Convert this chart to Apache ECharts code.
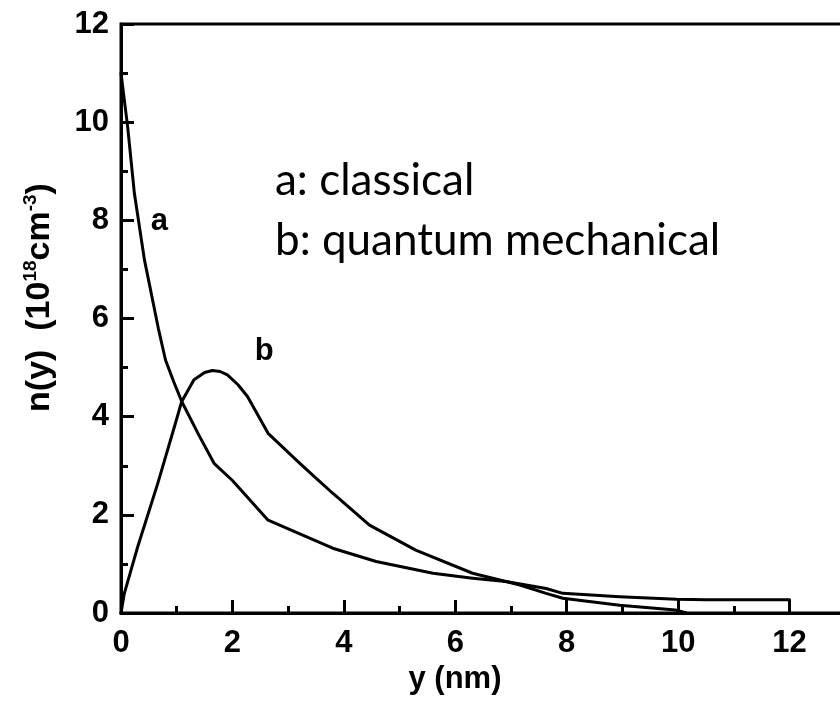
<!DOCTYPE html>
<html>
<head>
<meta charset="utf-8">
<script src="https://cdn.jsdelivr.net/npm/echarts@6/dist/echarts.min.js"></script>
<style>
  html, body { margin: 0; padding: 0; background: #fff; }
  #chart { width: 840px; height: 709px; }
</style>
</head>
<body>
<div id="chart"></div>
<script>
// Carrier density profiles n(y) versus depth y
const classicalY = [0, 0.12, 0.24, 0.42, 0.67, 0.8, 0.95, 1.09, 1.4, 1.67, 2.0, 2.64, 3.21, 3.8, 4.58, 5.6, 6.31, 6.91, 7.63, 7.93, 8.95, 9.97, 10.5, 12];
const classicalN = [11.0, 9.9, 8.55, 7.2, 5.8, 5.15, 4.7, 4.31, 3.62, 3.05, 2.7, 1.89, 1.61, 1.32, 1.05, 0.81, 0.71, 0.64, 0.5, 0.4, 0.33, 0.28, 0.27, 0.27];

const quantumY = [0, 0.06, 0.3, 0.66, 0.96, 1.09, 1.31, 1.5, 1.64, 1.78, 1.91, 2.1, 2.27, 2.64, 3.21, 3.47, 3.8, 4.46, 5.29, 6.31, 7.16, 7.63, 7.93, 8.95, 9.95, 10.15];
const quantumN = [0, 0.4, 1.35, 2.64, 3.8, 4.31, 4.75, 4.9, 4.94, 4.92, 4.85, 4.65, 4.41, 3.66, 3.05, 2.78, 2.44, 1.79, 1.28, 0.81, 0.57, 0.4, 0.3, 0.16, 0.06, 0.0];

const xTicks = { min: 0, max: 14, interval: 2 };
const yTicks = { min: 0, max: 12, interval: 2 };

const curveLabels = ['a', 'b'];
const curveLabelAt = [[0.69, 7.97], [2.57, 5.32]];
const legendLines = ['a: classical', 'b: quantum mechanical'];

const pairs = (xs, ys) => xs.map((x, i) => [x, ys[i]]);

const chart = echarts.init(document.getElementById('chart'), null, { renderer: 'canvas' });

const boldFamily = 'Liberation Sans, Arial, sans-serif';
const tickFont = { fontFamily: boldFamily, fontWeight: 'bold', fontSize: 31, color: '#000' };

function curve(name, xs, ys, label, at) {
  return {
    name: name,
    type: 'line',
    data: pairs(xs, ys),
    showSymbol: false,
    symbol: 'none',
    smooth: false,
    lineStyle: { color: '#000', width: 3, join: 'round', cap: 'round' },
    z: 3,
    markPoint: {
      symbol: 'circle',
      symbolSize: 1,
      itemStyle: { color: 'rgba(0,0,0,0)' },
      label: {
        show: true,
        position: 'inside',
        formatter: label,
        fontFamily: boldFamily,
        fontWeight: 'bold',
        fontSize: 31,
        color: '#000'
      },
      data: [{ coord: at }]
    }
  };
}

chart.setOption({
  animation: false,
  backgroundColor: '#fff',
  grid: {
    left: 121,
    top: 24,
    width: 780,
    bottom: 96,
    containLabel: false,
    outerBoundsMode: 'none',
    show: true,
    borderColor: '#000',
    borderWidth: 3,
    backgroundColor: 'transparent'
  },
  xAxis: {
    type: 'value',
    min: xTicks.min,
    max: xTicks.max,
    interval: xTicks.interval,
    name: 'y (nm)',
    nameLocation: 'middle',
    nameGap: 50,
    nameTextStyle: {
      fontFamily: boldFamily,
      fontWeight: 'bold',
      fontSize: 31,
      color: '#000',
      padding: [0, 112, 0, 0]
    },
    axisLine: { show: true, lineStyle: { color: '#000', width: 3 } },
    axisTick: { show: true, inside: true, length: 13, lineStyle: { color: '#000', width: 3 } },
    minorTick: { show: true, splitNumber: 2, length: 7, lineStyle: { color: '#000', width: 3 } },
    axisLabel: Object.assign({ margin: 15, showMaxLabel: false }, tickFont),
    splitLine: { show: false },
    minorSplitLine: { show: false }
  },
  yAxis: {
    type: 'value',
    min: yTicks.min,
    max: yTicks.max,
    interval: yTicks.interval,
    name: '{t|n(y)  (10}{s|18}{t|cm}{s|-3}{t|)}',
    nameLocation: 'middle',
    nameGap: 64,
    nameRotate: 90,
    nameTextStyle: {
      padding: [0, 0, 0, 42],
      rich: {
        t: { fontFamily: boldFamily, fontWeight: 'bold', fontSize: 34, color: '#000', lineHeight: 36, verticalAlign: 'bottom' },
        s: { fontFamily: boldFamily, fontWeight: 'bold', fontSize: 19, color: '#000', lineHeight: 36, verticalAlign: 'top' }
      }
    },
    axisLine: { show: true, lineStyle: { color: '#000', width: 3 } },
    axisTick: { show: true, inside: true, length: 13, lineStyle: { color: '#000', width: 3 } },
    minorTick: { show: true, splitNumber: 2, length: 7, lineStyle: { color: '#000', width: 3 } },
    axisLabel: Object.assign({ margin: 12 }, tickFont),
    splitLine: { show: false },
    minorSplitLine: { show: false }
  },
  graphic: [
    {
      type: 'text',
      left: 275,
      top: 159,
      style: { text: legendLines[0], font: '44px Lato, "Open Sans", sans-serif', fill: '#000' }
    },
    {
      type: 'text',
      left: 275,
      top: 219,
      style: { text: legendLines[1], font: '44px Lato, "Open Sans", sans-serif', fill: '#000' }
    }
  ],
  series: [
    curve('classical', classicalY, classicalN, curveLabels[0], curveLabelAt[0]),
    curve('quantum mechanical', quantumY, quantumN, curveLabels[1], curveLabelAt[1])
  ]
});
</script>
</body>
</html>
